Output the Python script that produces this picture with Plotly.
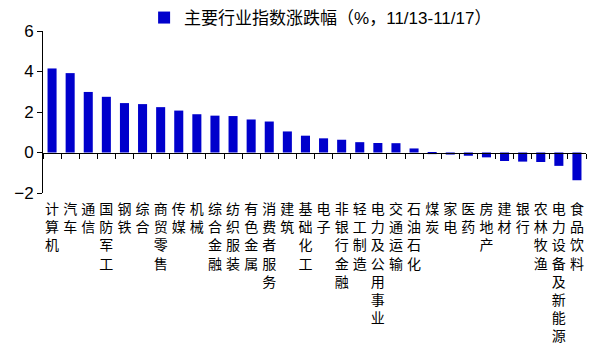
import plotly.graph_objects as go

# Weekly change of major industry indices (%, 11/13-11/17)
industries = [
    "计算机", "汽车", "通信", "国防军工", "钢铁", "综合", "商贸零售", "传媒",
    "机械", "综合金融", "纺织服装", "有色金属", "消费者服务", "建筑", "基础化工",
    "电子", "非银行金融", "轻工制造", "电力及公用事业", "交通运输", "石油石化",
    "煤炭", "家电", "医药", "房地产", "建材", "银行", "农林牧渔",
    "电力设备及新能源", "食品饮料",
]
changes = [
    4.15, 3.92, 2.99, 2.75, 2.44, 2.39, 2.24, 2.07,
    1.89, 1.82, 1.80, 1.63, 1.53, 1.04, 0.83,
    0.70, 0.63, 0.51, 0.47, 0.46, 0.20,
    -0.08, -0.10, -0.16, -0.24, -0.42, -0.45, -0.47,
    -0.66, -1.37,
]
series_name = "主要行业指数涨跌幅（%，11/13-11/17）"
y_ticks = [-2, 0, 2, 4, 6]

n = len(industries)
positions = list(range(n))
# stack the characters of each name vertically
vertical_labels = ["<br>".join(list(name)) for name in industries]

BAR = "#0000CC"
CJK = "Noto Sans CJK SC"

fig = go.Figure()
fig.add_trace(go.Bar(
    x=positions, y=changes, name=series_name,
    marker=dict(color=BAR, line=dict(width=0)),
    width=0.5, showlegend=True,
))

fig.update_layout(
    width=593, height=349,
    margin=dict(l=43, r=7, t=31, b=156, autoexpand=False),
    plot_bgcolor="white", paper_bgcolor="white",
    bargap=0.5,
    showlegend=True,
    legend=dict(
        orientation="h", xref="container", yref="container",
        x=0.243, y=1.0, xanchor="left", yanchor="top",
        font=dict(family="Liberation Sans, " + CJK, size=17, color="black"),
        itemwidth=30,
        bgcolor="rgba(0,0,0,0)",
    ),
    xaxis=dict(
        range=[-0.5, n - 0.5], automargin=False,
        tickmode="array", tickvals=positions, ticktext=vertical_labels,
        tickangle=0,
        showline=False, showgrid=False, zeroline=False, ticks="",
        ticklabelstandoff=6,
        tickfont=dict(family=CJK, size=14, color="black"),
    ),
    # axis carrying the category boundary ticks along the zero line
    xaxis2=dict(
        overlaying="x", anchor="free", position=0.25, side="bottom",
        range=[-0.5, n - 0.5], automargin=False,
        tickmode="array", tickvals=[i - 0.5 for i in range(n + 1)],
        showticklabels=False, ticks="outside", ticklen=5, tickwidth=1,
        tickcolor="black",
        showline=True, linecolor="black", linewidth=1,
        showgrid=False, zeroline=False,
    ),
    yaxis=dict(
        range=[-2, 6], tickmode="array", tickvals=y_ticks, automargin=False,
        showline=True, linecolor="black", linewidth=1,
        ticks="outside", ticklen=5, tickcolor="black",
        showgrid=False, zeroline=False,
        tickfont=dict(family="Liberation Sans", size=17, color="black"),
    ),
)

# invisible trace to activate the boundary-tick axis
fig.add_trace(go.Scatter(x=[0], y=[0], xaxis="x2", mode="markers",
                         marker=dict(opacity=0), showlegend=False,
                         hoverinfo="skip"))

fig.write_html("out.html")
